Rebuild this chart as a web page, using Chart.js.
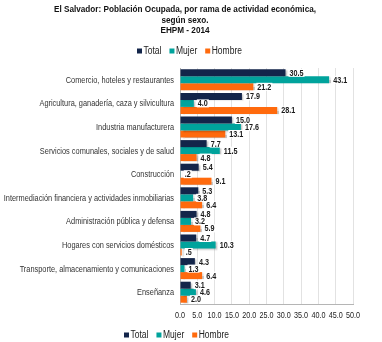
<!DOCTYPE html>
<html>
<head>
<meta charset="utf-8">
<script src="https://cdn.jsdelivr.net/npm/chart.js@4"></script>
<style>
body{margin:0;background:#fff;}
#wrap{width:382px;height:342px;position:relative;}
</style>
</head>
<body>
<div id="wrap"><canvas id="grafica" width="382" height="342"></canvas></div>
<script>
const titulo=['El Salvador: Población Ocupada, por rama de actividad económica,','según sexo.','EHPM - 2014'];
const categorias=['Comercio, hoteles y restaurantes','Agricultura, ganadería, caza y silvicultura','Industria manufacturera','Servicios comunales, sociales y de salud','Construcción','Intermediación financiera y actividades inmobiliarias','Administración pública y defensa','Hogares con servicios domésticos','Transporte, almacenamiento y comunicaciones','Enseñanza'];
const total=[30.5,17.9,15.0,7.7,5.4,5.3,4.8,4.7,4.3,3.1];
const mujer=[43.1,4.0,17.6,11.5,0.2,3.8,3.2,10.3,1.3,4.6];
const hombre=[21.2,28.1,13.1,4.8,9.1,6.4,5.9,0.5,6.4,2.0];
const ticksX=[0,5,10,15,20,25,30,35,40,45,50];

const fuente='"Liberation Sans",Arial,sans-serif';
const colores=['#13254a','#00a39c','#ff6a0d'];

function fmt(v){
    let s=v.toFixed(1);
    if(v<1) s=s.replace(/^0/,'');
    return s;
}

// texto "angosto" (el original usa Arial Narrow)
function texto(ctx,t,x,y,align,esc){
    ctx.save();
    ctx.translate(x,y);
    ctx.scale(esc,1);
    ctx.textAlign=align;
    ctx.fillText(t,0,0);
    ctx.restore();
    return ctx.measureText(t).width*esc;
}

function leyenda(ctx,chart,x,y){
    ctx.font='10px '+fuente;
    ctx.textBaseline='middle';
    chart.data.datasets.forEach((ds,i)=>{
        ctx.fillStyle=colores[i];
        ctx.fillRect(x,y-2.5,5,5);
        x+=6.5;
        ctx.fillStyle='#222';
        x+=texto(ctx,ds.label,x,y,'left',0.85)+8;
    });
}

const sombra={
    id:'sombra',
    beforeDatasetsDraw(chart){
        const ctx=chart.ctx;
        ctx.save();
        ctx.shadowColor='rgba(0,0,0,0.22)';
        ctx.shadowOffsetX=2;
        ctx.shadowOffsetY=1;
        ctx.shadowBlur=1.5;
    },
    afterDatasetsDraw(chart){
        chart.ctx.restore();
    }
};

const textos={
    id:'textos',
    afterDraw(chart){
        const ctx=chart.ctx;
        const sx=chart.scales.x, sy=chart.scales.y;
        ctx.save();

        // titulo
        ctx.fillStyle='#111';
        ctx.font='bold 9.5px '+fuente;
        ctx.textBaseline='middle';
        [9,20,30.5].forEach((y,i)=>texto(ctx,titulo[i],185,y,'center',0.86));

        // leyendas
        leyenda(ctx,chart,137,51);
        leyenda(ctx,chart,124,335);

        // etiquetas de categorias
        ctx.font='9px '+fuente;
        ctx.fillStyle='#333';
        categorias.forEach((c,i)=>texto(ctx,c,174,sy.getPixelForValue(i)+0.5,'right',0.82));

        // ticks del eje x
        ctx.fillStyle='#222';
        ticksX.forEach(v=>texto(ctx,v.toFixed(1),sx.getPixelForValue(v),316,'center',0.8));

        // valores de las barras
        ctx.font='bold 9px '+fuente;
        chart.data.datasets.forEach((ds,i)=>{
            chart.getDatasetMeta(i).data.forEach((bar,j)=>{
                let t=fmt(ds.data[j]);
                let w=ctx.measureText(t).width*0.8;
                let x=bar.x+4;
                ctx.fillStyle='#fff';
                ctx.fillRect(x-1,bar.y-4,w+2,8);
                ctx.fillStyle='#1a1a1a';
                texto(ctx,t,x,bar.y+0.5,'left',0.8);
            });
        });
        ctx.restore();
    }
};

new Chart(document.getElementById('grafica'),{
    type:'bar',
    data:{
        labels:categorias,
        datasets:[
            {label:'Total',data:total,backgroundColor:colores[0]},
            {label:'Mujer',data:mujer,backgroundColor:colores[1]},
            {label:'Hombre',data:hombre,backgroundColor:colores[2]}
        ]
    },
    options:{
        indexAxis:'y',
        responsive:false,
        animation:false,
        categoryPercentage:0.89,
        barPercentage:1.0,
        layout:{padding:{left:0,right:29,top:68,bottom:0}},
        plugins:{
            title:{display:false},
            legend:{display:false},
            tooltip:{enabled:false}
        },
        scales:{
            x:{
                min:0,max:50,
                afterBuildTicks(axis){axis.ticks=ticksX.map(v=>({value:v}));},
                afterFit(axis){axis.height=38;},
                ticks:{display:false},
                grid:{color:'#e2e2e2',drawTicks:false},
                border:{color:'#b5b5b5'}
            },
            y:{
                afterFit(axis){axis.width=180;},
                ticks:{display:false},
                grid:{display:false},
                border:{color:'#b5b5b5'}
            }
        }
    },
    plugins:[sombra,textos]
});
</script>
</body>
</html>
